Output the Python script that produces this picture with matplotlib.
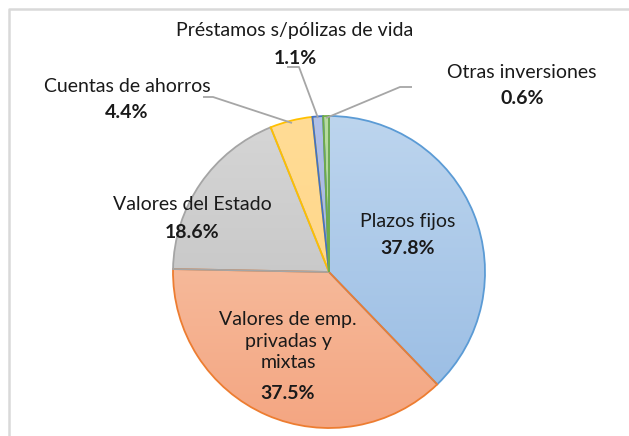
import matplotlib
matplotlib.use("Agg")
import matplotlib.pyplot as plt
import numpy as np
from matplotlib.colors import to_rgb

labels = ["Plazos fijos", "Valores de emp.\nprivadas y\nmixtas", "Valores del Estado",
          "Cuentas de ahorros", "Préstamos s/pólizas de vida", "Otras inversiones"]
values = [37.8, 37.5, 18.6, 4.4, 1.1, 0.6]
pct_labels = ["37.8%", "37.5%", "18.6%", "4.4%", "1.1%", "0.6%"]

top_colors = ["#BDD5EE", "#F8CBB0", "#D6D6D6", "#FFDC96", "#B0C0E8", "#B8DCA0"]
bot_colors = ["#97BBE3", "#F4A682", "#BDBDBD", "#FFD380", "#9EB0E0", "#A2CD86"]
edge_colors = ["#5B9BD5", "#ED7D31", "#A5A5A5", "#FFC000", "#4472C4", "#70AD47"]

W, H = 629, 436
fig = plt.figure(figsize=(W / 100, H / 100), dpi=100)
ax = fig.add_axes([0, 0, 1, 1])

cx, cy, r = 329, H - 272, 156

wedges, _ = ax.pie(values, startangle=90, counterclock=False, center=(cx, cy),
                   radius=r, colors=["none"] * len(values),
                   wedgeprops=dict(linewidth=1.3))

for w, tc, bc, ec in zip(wedges, top_colors, bot_colors, edge_colors):
    w.set_edgecolor(ec)
    w.set_facecolor("none")
    w.set_zorder(3)
    t = np.linspace(0, 1, 256)[:, None]
    c0, c1 = np.array(to_rgb(tc)), np.array(to_rgb(bc))
    grad = (c0[None, None, :] * (1 - t[..., None]) + c1[None, None, :] * t[..., None])
    grad = np.repeat(grad, 2, axis=1)
    im = ax.imshow(grad, extent=[cx - r, cx + r, cy - r, cy + r], origin="upper",
                   aspect="auto", zorder=2, interpolation="bilinear")
    im.set_clip_path(w)

font = "Lato"
fs = 14
txt = "#1a1a1a"

# label positions in pixel coordinates (x center, y of name line center, y of pct)
pos = [
    (408, 222, 248),
    (288, 341, 393),
    (192, 205, 232),
    (127, 86, 112),
    (295, 31, 58),
    (522, 72, 98),
]
for (x, yn, yp), lab, pl in zip(pos, labels, pct_labels):
    ax.text(x, H - yn, lab, ha="center", va="center", fontsize=fs, family=font,
            color=txt, linespacing=1.33, zorder=5)
    ax.text(x, H - yp, pl, ha="center", va="center", fontsize=fs, family=font,
            color=txt, fontweight="bold", zorder=5)

lc = "#A6A6A6"
leaders = [
    [(203, 97), (213, 97), (292, 123)],
    [(287, 67), (299, 67), (318, 118)],
    [(412, 87), (400, 87), (326, 118)],
]
for pts in leaders:
    xs = [p[0] for p in pts]
    ys = [H - p[1] for p in pts]
    ax.plot(xs, ys, color=lc, lw=1.3, zorder=4, solid_capstyle="butt")

# chart frame (partially visible)
ax.plot([9, 9, W], [0, H - 9, H - 9], color="#D9D9D9", lw=1.8, zorder=1)

ax.set_xlim(0, W)
ax.set_ylim(0, H)
ax.set_aspect("auto")
ax.axis("off")
fig.savefig("out.png", dpi=100)
